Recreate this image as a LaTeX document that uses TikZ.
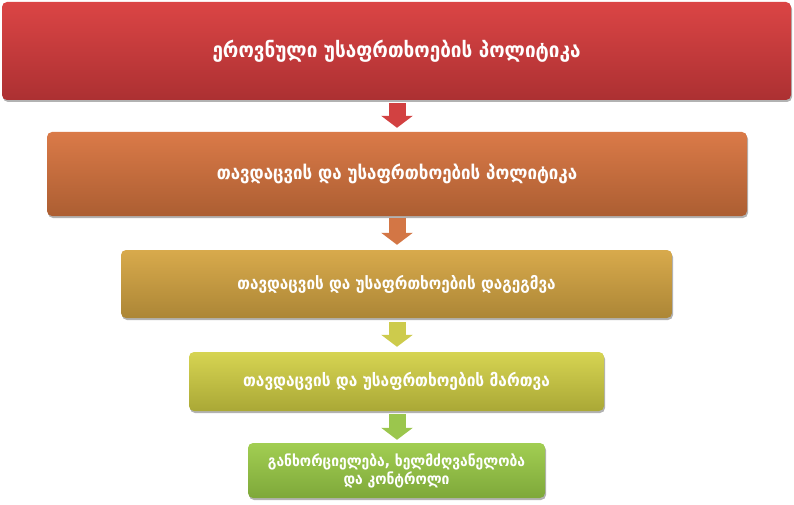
\documentclass[tikz,border=0pt]{standalone}
\usepackage{fontspec}
\setmainfont{DejaVu Sans Condensed}
\usetikzlibrary{shadows,arrows.meta}
\definecolor{redtop}{RGB}{219,69,69}
\definecolor{redbot}{RGB}{172,48,50}
\definecolor{orangetop}{RGB}{218,122,72}
\definecolor{orangebot}{RGB}{172,94,50}
\definecolor{ochretop}{RGB}{216,170,76}
\definecolor{ochrebot}{RGB}{172,134,54}
\definecolor{olivetop}{RGB}{214,212,82}
\definecolor{olivebot}{RGB}{170,168,54}
\definecolor{greentop}{RGB}{162,206,82}
\definecolor{greenbot}{RGB}{126,168,58}

\begin{document}
\begin{tikzpicture}
[every node/.style={inner sep=0pt},
 stage/.style={rectangle, rounded corners=5pt, text=white, align=center,
   drop shadow={shadow xshift=1pt, shadow yshift=-2pt, opacity=0.3, fill=black}},
 flow/.style={line width=17pt, -{Triangle[length=12pt, width=31pt]}}]
\useasboundingbox (0pt, 0pt) rectangle (794pt, -505pt);
\node (national) [stage, minimum width=789pt, minimum height=98pt, top color=redtop, bottom color=redbot, font=\bfseries\fontsize{21}{25}\selectfont] at (396.5pt, -51.0pt) {ეროვნული უსაფრთხოების პოლიტიკა};
\node (policy) [stage, minimum width=700pt, minimum height=84pt, top color=orangetop, bottom color=orangebot, font=\bfseries\fontsize{18.8}{22}\selectfont] at (397.0pt, -174.0pt) {თავდაცვის და უსაფრთხოების პოლიტიკა};
\node (planning) [stage, minimum width=551pt, minimum height=68pt, top color=ochretop, bottom color=ochrebot, font=\bfseries\fontsize{17}{20}\selectfont] at (396.5pt, -284.0pt) {თავდაცვის და უსაფრთხოების დაგეგმვა};
\node (management) [stage, minimum width=415pt, minimum height=59pt, top color=olivetop, bottom color=olivebot, font=\bfseries\fontsize{17.2}{20}\selectfont] at (396.5pt, -381.5pt) {თავდაცვის და უსაფრთხოების მართვა};
\node (control) [stage, minimum width=297pt, minimum height=55pt, top color=greentop, bottom color=greenbot, font=\bfseries\fontsize{15.4}{18}\selectfont] at (396.5pt, -470.5pt) {განხორციელება, ხელმძღვანელობა\\და კონტროლი};
\draw [flow, color=redtop!80!redbot, shorten <=3pt, shorten >=4pt] (national.south -| 397pt,0) to (policy.north -| 397pt,0);
\draw [flow, color=orangetop!85!orangebot, shorten <=2pt, shorten >=5pt] (policy.south -| 397pt,0) to (planning.north -| 397pt,0);
\draw [flow, color=olivetop!80!olivebot, shorten <=4pt, shorten >=5pt] (planning.south -| 397pt,0) to (management.north -| 397pt,0);
\draw [flow, color=greentop!80!greenbot, shorten <=3pt, shorten >=3pt] (management.south -| 397pt,0) to (control.north -| 397pt,0);
\end{tikzpicture}
\end{document}
